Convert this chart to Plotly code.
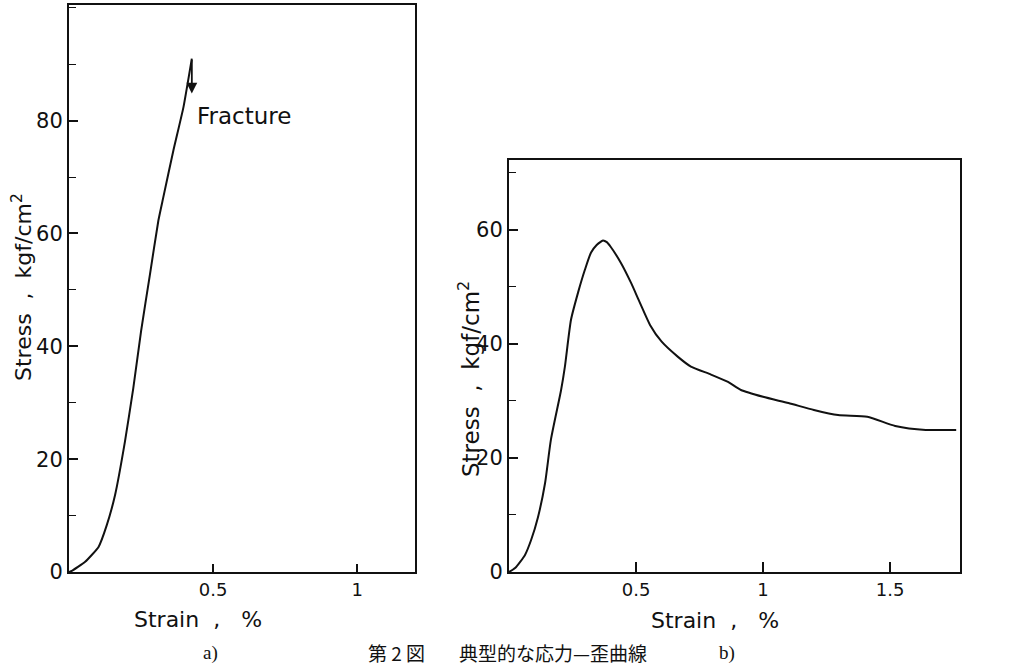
import plotly.graph_objects as go

# ---- data ----
strain_a = [0, 0.01, 0.056, 0.102, 0.131, 0.16, 0.194, 0.223, 0.25, 0.28, 0.31, 0.327, 0.362, 0.397, 0.426]
stress_a = [0, 0.2, 1.8, 4.4, 8.3, 13.7, 23.1, 32.6, 42.7, 52.5, 62.3, 66.4, 74.7, 82.4, 91.0]
fracture_arrow_tip = 84.8

strain_b = [0, 0.024, 0.063, 0.087, 0.114, 0.142, 0.165, 0.205, 0.22, 0.244, 0.272, 0.299, 0.323,
            0.345, 0.362, 0.37, 0.385, 0.40, 0.44, 0.48, 0.515, 0.555, 0.6, 0.665, 0.716, 0.795,
            0.862, 0.913, 1.0, 1.1, 1.2, 1.295, 1.41, 1.52, 1.64, 1.76]
stress_b = [0, 0.7, 3.0, 5.6, 9.6, 15.6, 23.2, 31.9, 36.0, 44.2, 49.0, 53.0, 56.0,
            57.3, 57.9, 58.1, 57.8, 57.0, 54.2, 50.7, 47.2, 43.3, 40.4, 37.7, 36.0, 34.6,
            33.3, 31.9, 30.7, 29.6, 28.4, 27.5, 27.2, 25.6, 24.9, 24.9]

xticks_a = [0.5, 1]
xticks_b = [0.5, 1, 1.5]
xticklabels_a = ["0.5", "1"]
xticklabels_b = ["0.5", "1", "1.5"]
yticks_a = [0, 20, 40, 60, 80]
yticks_b = [0, 20, 40, 60]

FONT = "DejaVu Sans"
BLACK = "#111111"
W, H = 1026, 669

fig = go.Figure()
fig.add_trace(go.Scatter(x=strain_a, y=stress_a, mode="lines",
                         line=dict(color=BLACK, width=2, shape="spline", smoothing=0.4),
                         xaxis="x", yaxis="y", showlegend=False, hoverinfo="skip"))
fig.add_trace(go.Scatter(x=strain_b, y=stress_b, mode="lines",
                         line=dict(color=BLACK, width=2, shape="spline", smoothing=0.6),
                         xaxis="x2", yaxis="y2", showlegend=False, hoverinfo="skip"))

common_axis = dict(showline=True, linecolor=BLACK, linewidth=2, mirror=True, showgrid=False,
                   zeroline=False, ticks="inside", tickcolor=BLACK, tickwidth=1.5, automargin=False)

def px_x(px):
    return px / W

def px_y(py):
    return 1 - py / H

fig.update_layout(
    width=W, height=H,
    margin=dict(l=0, r=0, t=0, b=0, pad=0),
    paper_bgcolor="white", plot_bgcolor="white",
    xaxis=dict(domain=[px_x(69), px_x(415)], range=[0, 1.2], tickvals=xticks_a, ticktext=xticklabels_a,
               ticklen=8, tickfont=dict(family=FONT, size=18, color=BLACK), anchor="y", **common_axis),
    yaxis=dict(domain=[px_y(572), px_y(5)], range=[0, 100.5], tickvals=yticks_a,
               ticklen=9, tickfont=dict(family=FONT, size=21, color=BLACK),
               minor=dict(dtick=10, tick0=10, ticks="inside", ticklen=7, tickcolor=BLACK, tickwidth=1.2),
               anchor="x", **common_axis),
    xaxis2=dict(domain=[px_x(509), px_x(960)], range=[0, 1.775], tickvals=xticks_b, ticktext=xticklabels_b,
                ticklen=10, tickfont=dict(family=FONT, size=18, color=BLACK), anchor="y2", **common_axis),
    yaxis2=dict(domain=[px_y(572), px_y(160)], range=[0, 72.2], tickvals=yticks_b,
                ticklen=9, tickfont=dict(family=FONT, size=21, color=BLACK),
                minor=dict(dtick=10, tick0=10, ticks="inside", ticklen=7, tickcolor=BLACK, tickwidth=1.2),
                anchor="x2", **common_axis),
)

ann = []
# Fracture arrow and label
ann.append(dict(x=strain_a[-1], y=fracture_arrow_tip, ax=strain_a[-1], ay=stress_a[-1],
                xref="x", yref="y", axref="x", ayref="y", showarrow=True,
                arrowhead=2, arrowsize=1.2, arrowwidth=1.8, arrowcolor=BLACK, text=""))
ann.append(dict(x=strain_a[-1] + 0.011, y=80.8, xref="x", yref="y", text="Fracture",
                showarrow=False, xanchor="left", yanchor="middle",
                font=dict(family=FONT, size=23, color=BLACK)))

def paper_text(px, py, text, size, family=FONT, angle=0):
    return dict(x=px_x(px), y=px_y(py), xref="paper", yref="paper", text=text, textangle=angle,
                xanchor="center", yanchor="middle", showarrow=False,
                font=dict(family=family, size=size, color=BLACK))

ytitle = "Stress  ,  kgf/cm<sup>2</sup>"
ann.append(paper_text(22, 287, ytitle, 22, angle=-90))
ann.append(paper_text(469, 379, ytitle, 23, angle=-90))
ann.append(paper_text(198, 619, "Strain  ,   %", 22))
ann.append(paper_text(715, 620, "Strain  ,   %", 22))
# captions
ann.append(paper_text(210, 653, "a)", 19, family="Liberation Serif"))
ann.append(paper_text(727, 653, "b)", 19, family="Liberation Serif"))
ann.append(paper_text(396, 652, "第 2 図", 19, family="Noto Sans CJK JP"))
ann.append(paper_text(553, 652, "典型的な応力—歪曲線", 19, family="Noto Sans CJK JP"))

fig.update_layout(annotations=ann)

fig.write_html("out.html", config={"displayModeBar": False},
               post_script="document.body.style.margin='0';document.body.style.overflow='hidden';")
